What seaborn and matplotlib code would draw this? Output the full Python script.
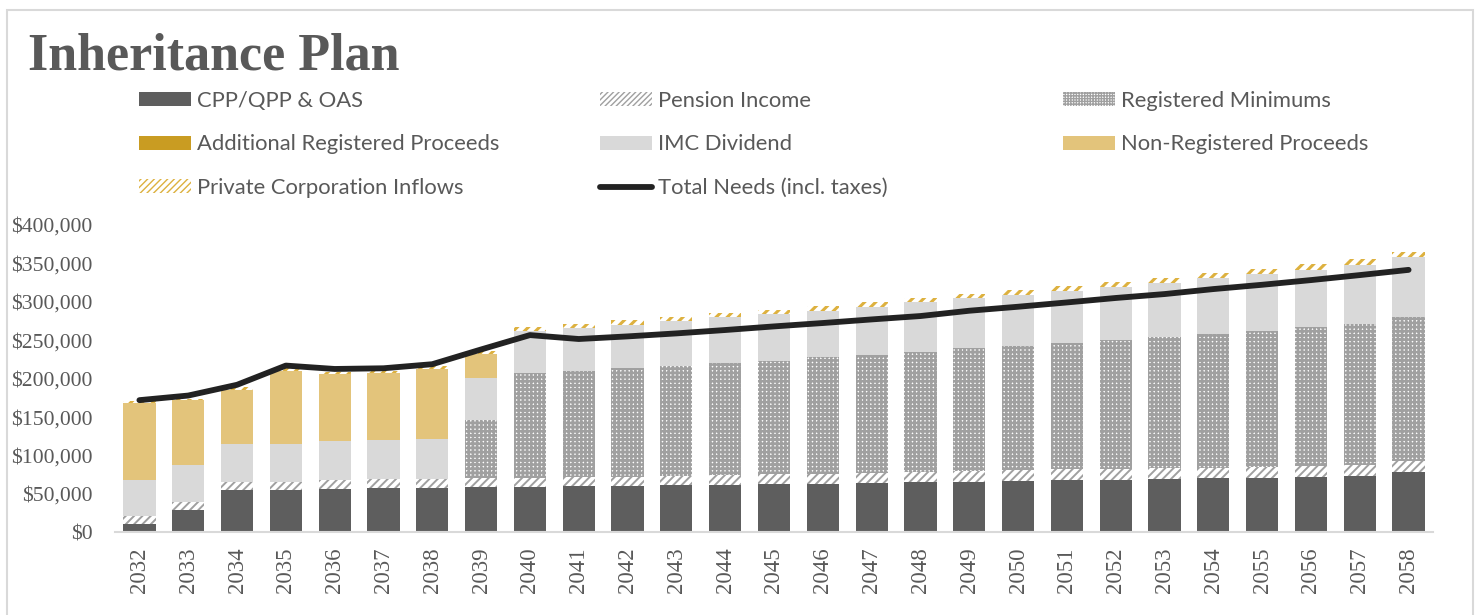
import numpy as np
import pandas as pd
import matplotlib
matplotlib.use("Agg")
import matplotlib.pyplot as plt
import matplotlib.patches as mpatches
from matplotlib.lines import Line2D
from matplotlib.ticker import FuncFormatter
import seaborn as sns

# ---------------- data (values in $) ----------------
years = [str(y) for y in range(2032, 2059)]

cpp_oas = [10400, 28600, 54500, 54500, 56300, 57600, 57600, 58900, 58900, 59800,
           60200, 61100, 62000, 62800, 63300, 64100, 65400, 65900, 66700, 68000,
           68500, 69300, 70100, 70500, 71400, 72700, 78000]
pension = [10800, 10800, 10900, 11200, 11200, 11200, 11200, 11600, 11600, 12000,
           12300, 12500, 12800, 13000, 13200, 13500, 13600, 13700, 13800, 13900,
           14100, 14200, 14200, 14300, 14400, 14500, 14700]
reg_min = [0, 0, 0, 0, 0, 0, 0, 75900, 136500, 137700,
           140800, 143400, 145100, 147600, 151100, 153200, 156200, 159800, 162000, 164600,
           167600, 170600, 174100, 177600, 181000, 183600, 187400]
add_reg = [0] * 27
imc_div = [46400, 47600, 48900, 49700, 50700, 50700, 52900, 54000, 54500, 55900,
           56700, 57500, 59700, 60600, 61100, 62400, 64100, 65500, 66300, 68000,
           69300, 71000, 72300, 73600, 74500, 76600, 77900]
non_reg = [100400, 85400, 71100, 94400, 87900, 88100, 90900, 31800, -1500, -1500,
           -1500, -1500, -1500, -1500, -1500, -1500, -1500, -1500, -1500, -1500,
           -1500, -1500, -1500, -1500, -1500, -1500, -1500]
priv_corp = [2600, 1300, 3400, 5600, 2200, 2400, 3400, 4200, 5200, 5600,
             6100, 6100, 5700, 5700, 5700, 6100, 5800, 5000, 6500, 6500,
             6900, 6500, 6900, 6500, 7800, 7800, 7400]
total_needs = [172000, 178000, 192000, 217000, 212600, 213500, 218800, 238000, 256700, 251600,
               255000, 258900, 263300, 268000, 272400, 277100, 281500, 288400, 293600, 299200,
               305000, 310100, 316600, 322200, 328300, 334800, 341600]

labels = ["CPP/QPP & OAS", "Pension Income", "Registered Minimums",
          "Additional Registered Proceeds", "IMC Dividend", "Non-Registered Proceeds",
          "Private Corporation Inflows", "Total Needs (incl. taxes)"]

# ---------------- styles ----------------
C_CPP = "#5E5E5E"
C_GRAY = "#A0A0A0"
C_IMC = "#D9D9D9"
C_NONREG = "#E3C47B"
C_ADDREG = "#C99C22"
C_GOLD = "#DDB13F"
C_LINE = "#222222"
TXT = "#595959"

sns.set_theme(style="white")
plt.rcParams["font.family"] = ["Lato", "DejaVu Sans"]

fig = plt.figure(figsize=(14.81, 6.15), dpi=100)
ax = fig.add_axes([115 / 1481, 1 - 532.3 / 615, 1318 / 1481, 307.3 / 615])

df = pd.DataFrame({"year": years, "cpp": cpp_oas, "pen": pension, "reg": reg_min,
                   "add": add_reg, "imc": imc_div,
                   "nonreg": np.clip(non_reg, 0, None), "neg": np.clip(non_reg, None, 0),
                   "priv": priv_corp, "total": total_needs})

order = ["cpp", "pen", "reg", "add", "imc", "nonreg", "priv"]
cum = df[order].cumsum(axis=1)

layer_style = {
    "priv": dict(color="white", edgecolor=C_GOLD, hatch="///", hlw=2.2),
    "nonreg": dict(color=C_NONREG, edgecolor=C_NONREG, hatch=None, hlw=1.0),
    "imc": dict(color=C_IMC, edgecolor=C_IMC, hatch=None, hlw=1.0),
    "add": dict(color=C_ADDREG, edgecolor=C_ADDREG, hatch=None, hlw=1.0),
    "reg": dict(color="white", edgecolor=C_GRAY, hatch="++++", hlw=1.9),
    "pen": dict(color="white", edgecolor=C_GRAY, hatch="////", hlw=1.4),
    "cpp": dict(color=C_CPP, edgecolor=C_CPP, hatch=None, hlw=1.0),
}

bw = 0.66
for key in reversed(order):
    st = layer_style[key]
    with plt.rc_context({"hatch.linewidth": st["hlw"]}):
        sns.barplot(x=df["year"], y=cum[key], ax=ax, color=st["color"], saturation=1,
                    edgecolor=st["edgecolor"], hatch=st["hatch"], linewidth=0,
                    width=bw, errorbar=None)

# small negative non-registered amounts below the axis
sns.barplot(x=df["year"], y=df["neg"], ax=ax, color=C_NONREG, saturation=1,
            linewidth=0, width=bw, errorbar=None, clip_on=False)

sns.pointplot(x=df["year"], y=df["total"], ax=ax, color=C_LINE, markers="",
              linestyles="-", linewidth=4.2, errorbar=None)
for ln in ax.lines:
    ln.set_solid_capstyle("round")
    ln.set_solid_joinstyle("round")

ax.set_ylim(0, 400000)
ax.set_xlim(-0.5, len(years) - 0.5)
ax.set_yticks(np.arange(0, 400001, 50000))
ax.yaxis.set_major_formatter(FuncFormatter(lambda v, p: f"${v:,.0f}"))
ax.set_xlabel("")
ax.set_ylabel("")
for s in ["top", "right", "left"]:
    ax.spines[s].set_visible(False)
ax.spines["bottom"].set_color("#D9D9D9")
ax.spines["bottom"].set_linewidth(1.5)
ax.grid(False)
ax.tick_params(axis="y", length=0, pad=16, labelsize=15.6, labelcolor=TXT)
ax.tick_params(axis="x", length=0, pad=11, labelsize=16.5, labelcolor=TXT, rotation=90)
for t in ax.get_yticklabels() + ax.get_xticklabels():
    t.set_fontfamily("Liberation Serif")

# title
fig.text(28 / 1481, 1 - 70 / 615, "Inheritance Plan", fontsize=37.5, fontweight="bold",
         color=TXT, family="Liberation Serif", ha="left", va="baseline")

# legend
def patch(fc, ec, hatch=None):
    return mpatches.Patch(facecolor=fc, edgecolor=ec, hatch=hatch, linewidth=0)

handles = [patch(C_CPP, C_CPP), patch("white", C_GRAY, "//////"), patch("white", C_GRAY, "++++++"),
           patch(C_ADDREG, C_ADDREG), patch(C_IMC, C_IMC), patch(C_NONREG, C_NONREG),
           patch("white", C_GOLD, "/////"),
           Line2D([], [], color=C_LINE, linewidth=4.2, solid_capstyle="round")]

col_x = [139, 600, 1063]
cols = [[0, 3, 6], [1, 4, 7], [2, 5]]
for cx, idx in zip(col_x, cols):
    leg = fig.legend([handles[i] for i in idx], [labels[i] for i in idx],
                     loc="upper left", bbox_to_anchor=(cx / 1481, 1 - 91 / 615),
                     frameon=False, fontsize=15.8, labelcolor=TXT, borderpad=0,
                     borderaxespad=0, handlelength=2.37, handleheight=0.6,
                     handletextpad=0.27, labelspacing=1.07)

# outer chart border
fig.add_artist(mpatches.Rectangle((7 / 1481, -0.01), 1466 / 1481, 1 - 10 / 615 + 0.01,
                                  transform=fig.transFigure, facecolor="none",
                                  edgecolor="#D9D9D9", linewidth=1.5))

fig.savefig("out.png", dpi=100)
